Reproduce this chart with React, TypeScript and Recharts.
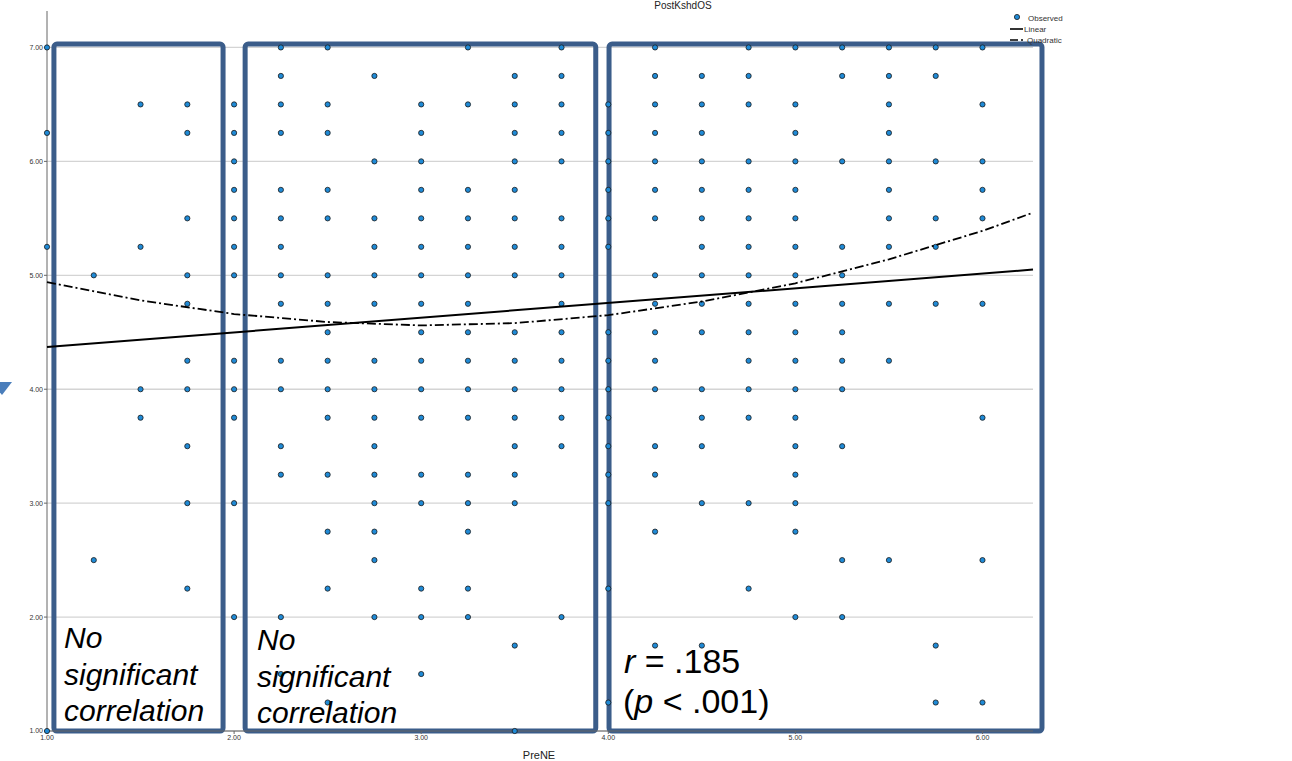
import React from "react";
import {
  CartesianGrid,
  ReferenceArea,
  Scatter,
  ScatterChart,
  XAxis,
  YAxis,
} from "recharts";

const xTicks = [1, 2, 3, 4, 5, 6];
const yTicks = [1, 2, 3, 4, 5, 6, 7];

// PreNE score for each column of observed points
const preNE = [1, 1.25, 1.5, 1.75, 2, 2.25, 2.5, 2.75, 3, 3.25, 3.5, 3.75, 4, 4.25, 4.5, 4.75, 5, 5.25, 5.5, 5.75, 6];

// PostKshdOS values observed in each column
const col100 = [7, 6.25, 5.25, 1];
const col125 = [5, 2.5];
const col150 = [6.5, 5.25, 4, 3.75];
const col175 = [6.5, 6.25, 5.5, 5, 4.75, 4.25, 4, 3.5, 3, 2.25];
const col200 = [6.5, 6.25, 6, 5.75, 5.5, 5.25, 5, 4.25, 4, 3.75, 3, 2];
const col225 = [7, 6.75, 6.5, 6.25, 5.75, 5.5, 5.25, 5, 4.75, 4.25, 4, 3.5, 3.25, 2, 1.5];
const col250 = [7, 6.5, 6.25, 5.75, 5.5, 5, 4.75, 4.5, 4.25, 4, 3.75, 3.25, 2.75, 2.25, 1.25];
const col275 = [6.75, 6, 5.5, 5.25, 5, 4.75, 4.25, 4, 3.75, 3.5, 3.25, 3, 2.75, 2.5, 2];
const col300 = [6.5, 6.25, 6, 5.75, 5.5, 5.25, 5, 4.75, 4.5, 4.25, 4, 3.75, 3.25, 3, 2.25, 2, 1.5];
const col325 = [7, 6.5, 5.75, 5.5, 5.25, 5, 4.75, 4.5, 4.25, 4, 3.75, 3.25, 3, 2.75, 2.25, 2];
const col350 = [6.75, 6.5, 6.25, 6, 5.75, 5.5, 5.25, 5, 4.5, 4.25, 4, 3.75, 3.5, 3.25, 3, 1.75, 1];
const col375 = [7, 6.75, 6.5, 6.25, 6, 5.5, 5.25, 5, 4.75, 4.5, 4.25, 4, 3.75, 3.5, 2];
const col400 = [6.5, 6.25, 6, 5.75, 5.5, 5.25, 4.5, 4.25, 4, 3.75, 3.5, 3.25, 3, 2.25, 1.25];
const col425 = [7, 6.75, 6.5, 6.25, 6, 5.75, 5.5, 5, 4.75, 4.5, 4.25, 4, 3.5, 3.25, 2.75, 1.75];
const col450 = [6.75, 6.5, 6.25, 6, 5.75, 5.5, 5.25, 5, 4.75, 4.5, 4, 3.75, 3.5, 3, 1.75];
const col475 = [7, 6.75, 6.5, 6, 5.75, 5.5, 5.25, 5, 4.75, 4.5, 4.25, 4, 3.75, 3, 2.25];
const col500 = [7, 6.5, 6.25, 6, 5.75, 5.5, 5.25, 5, 4.75, 4.5, 4.25, 4, 3.75, 3.5, 3.25, 3, 2.75, 2];
const col525 = [7, 6.75, 6, 5.25, 5, 4.75, 4.5, 4.25, 4, 3.5, 2.5, 2];
const col550 = [7, 6.75, 6.5, 6.25, 6, 5.75, 5.5, 5.25, 4.75, 4.25, 2.5];
const col575 = [7, 6.75, 6, 5.5, 5.25, 4.75, 1.75, 1.25];
const col600 = [7, 6.5, 6, 5.75, 5.5, 4.75, 3.75, 2.5, 1.25];

const columns = [
  col100, col125, col150, col175, col200, col225, col250, col275, col300, col325, col350,
  col375, col400, col425, col450, col475, col500, col525, col550, col575, col600,
];

// fitted lines
const linearX = [1, 6.27];
const linearY = [4.37, 5.05];
const quadX = [1, 1.5, 2, 2.5, 3, 3.5, 4, 4.5, 5, 5.5, 6, 6.27];
const quadY = [4.94, 4.78, 4.66, 4.59, 4.56, 4.58, 4.65, 4.77, 4.93, 5.14, 5.39, 5.55];

// annotation boxes [x1, x2] in PreNE units
const boxes = [
  [1.037, 1.941],
  [2.059, 3.933],
  [4.004, 6.318],
];

const observed = columns.flatMap((ys, i) => ys.map((y) => ({ x: preNE[i], y })));
const linear = linearX.map((x, i) => ({ x, y: linearY[i] }));
const quadratic = quadX.map((x, i) => ({ x, y: quadY[i] }));

const FONT = '"Liberation Sans", Arial, sans-serif';
const BOX = "#3b5d8a";

const Dot = (props: any) => (
  <circle cx={props.cx} cy={props.cy} r={2.6} fill="#1f8ad6" stroke="#1a1a1a" strokeWidth={0.8} />
);
const NoDot = () => <g />;

// skip the grid line recharts puts on the top edge of the plot
const GridLine = (props: any) =>
  props.y1 < 20 ? (
    <g />
  ) : (
    <line x1={props.x1} x2={props.x2} y1={props.y1} y2={props.y2} stroke="#d4d4d4" strokeWidth={1.3} />
  );

export default function App() {
  return (
    <div style={{ position: "absolute", left: 0, top: 0, width: 1292, height: 761, overflow: "hidden", background: "#fff" }}>
      <ScatterChart width={1292} height={761} margin={{ top: 11, right: 259, bottom: 0, left: 0 }}>
        <CartesianGrid vertical={false} horizontal={GridLine} />
        <XAxis
          type="number"
          dataKey="x"
          domain={[1, 6.27]}
          ticks={xTicks}
          tickFormatter={(v) => v.toFixed(2)}
          height={30}
          tickSize={3}
          tickMargin={1}
          stroke="#666"
          tick={{ fontSize: 7, fill: "#333", fontFamily: FONT }}
        />
        <YAxis
          type="number"
          dataKey="y"
          domain={[1, 7.32]}
          ticks={yTicks}
          tickFormatter={(v) => v.toFixed(2)}
          width={47}
          tickSize={3}
          tickMargin={1}
          stroke="#666"
          tick={{ fontSize: 7, fill: "#333", fontFamily: FONT }}
        />
        <Scatter data={observed} shape={Dot} isAnimationActive={false} />
        <Scatter
          data={linear}
          shape={NoDot}
          line={{ stroke: "#000", strokeWidth: 2 }}
          lineType="joint"
          isAnimationActive={false}
        />
        <Scatter
          data={quadratic}
          shape={NoDot}
          line={{ stroke: "#000", strokeWidth: 1.8, strokeDasharray: "9 3 2 3" }}
          lineType="joint"
          isAnimationActive={false}
        />
        {boxes.map(([x1, x2], i) => (
          <ReferenceArea
            key={i}
            x1={x1}
            x2={x2}
            y1={1}
            y2={7.03}
            ifOverflow="visible"
            fill="none"
            fillOpacity={0}
            stroke={BOX}
            strokeWidth={5}
            radius={3}
          />
        ))}
      </ScatterChart>
      <svg
        width={1292}
        height={761}
        style={{ position: "absolute", left: 0, top: 0, pointerEvents: "none" }}
        fontFamily={FONT}
      >
        <polygon points="-8,382 12,382 2,395" fill="#4a7ebb" />
        <text x={683} y={9} fontSize={10} textAnchor="middle" fill="#222">PostKshdOS</text>
        <text x={539} y={759} fontSize={11} textAnchor="middle" fill="#222">PreNE</text>

        <circle cx={1017} cy={17} r={2.6} fill="#1f8ad6" stroke="#1a1a1a" strokeWidth={0.8} />
        <text x={1028} y={20.5} fontSize={8} fill="#333">Observed</text>
        <line x1={1010} x2={1023} y1={29} y2={29} stroke="#000" strokeWidth={1.6} />
        <text x={1024} y={31.5} fontSize={8} fill="#333">Linear</text>
        <line x1={1010} x2={1025} y1={40} y2={40} stroke="#000" strokeWidth={1.6} strokeDasharray="8 3 2 3" />
        <text x={1027} y={42.5} fontSize={8} fill="#333">Quadratic</text>

        <text fontSize={30} fontStyle="italic" fill="#000">
          <tspan x={64} y={648}>No</tspan>
          <tspan x={64} y={685}>significant</tspan>
          <tspan x={64} y={721}>correlation</tspan>
        </text>
        <text fontSize={30} fontStyle="italic" fill="#000">
          <tspan x={257} y={650}>No</tspan>
          <tspan x={257} y={687}>significant</tspan>
          <tspan x={257} y={723}>correlation</tspan>
        </text>
        <text x={624} y={673} fontSize={34} fill="#000">
          <tspan fontStyle="italic">r</tspan> = .185
        </text>
        <text x={623} y={713} fontSize={34} fill="#000">
          (<tspan fontStyle="italic">p</tspan> &lt; .001)
        </text>
      </svg>
    </div>
  );
}
